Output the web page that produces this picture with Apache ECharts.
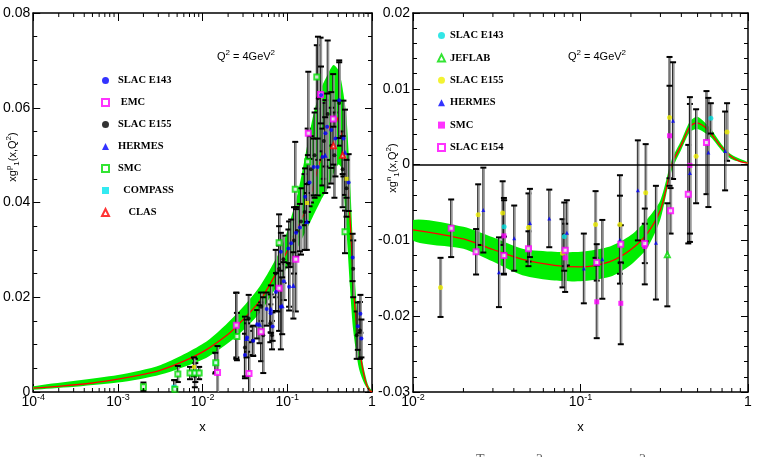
<!DOCTYPE html>
<html><head><meta charset="utf-8">
<script src="https://cdn.jsdelivr.net/npm/echarts@6/dist/echarts.min.js"></script>
<style>html,body{margin:0;padding:0;background:#fff}#c{width:757px;height:457px}</style>
</head><body><div id="c"></div>
<script>
// ---------- proton panel (left) ----------
const pCurveX = [1e-4,2e-4,5e-4,1e-3,2e-3,3.2e-3,6e-3,0.011,0.02,0.025,0.047,0.08,0.137,0.183,0.22,0.26,0.30,0.34,0.377,0.41,0.45,0.50,0.545,0.58,0.61,0.68,0.78,0.88,0.96,1];
const pCurveY = [0.0008,0.0012,0.0019,0.0027,0.0037,0.0046,0.0065,0.0089,0.0122,0.0138,0.0192,0.0263,0.0352,0.0405,0.0460,0.0504,0.0546,0.0572,0.0581,0.0565,0.0532,0.0462,0.0378,0.0290,0.0209,0.0117,0.0046,0.0011,0.0002,0];
const pBandX  = [1e-4,1e-3,3.2e-3,0.011,0.025,0.047,0.081,0.10,0.137,0.20,0.25,0.30,0.35,0.40,0.43,0.46,0.50,0.55,0.60,0.70,0.80,0.90,1];
const pBandLo = [0.0005,0.0020,0.0037,0.0072,0.0117,0.0166,0.0233,0.0265,0.0310,0.0370,0.0405,0.0430,0.0460,0.0480,0.0475,0.0430,0.0340,0.0220,0.0130,0.0050,0.0020,0.0005,0];
const pBandHi = [0.0012,0.0036,0.0057,0.0106,0.0164,0.0222,0.0296,0.0340,0.0430,0.0580,0.0640,0.0670,0.0690,0.0680,0.0660,0.0630,0.0580,0.0450,0.0300,0.0120,0.0050,0.0015,0.0002];
// points: [x, value, error]
const pE143 = [[0.0316,0.0078,0.0045],[0.0335,0.0115,0.003],[0.0396,0.0108,0.0032],[0.0441,0.0143,0.003],[0.0571,0.0175,0.0035],[0.0636,0.0166,0.004],[0.0671,0.0138,0.003],[0.0735,0.0211,0.004],[0.084,0.018,0.009],[0.084,0.0296,0.004],[0.091,0.0234,0.004],[0.103,0.0303,0.004],[0.105,0.0222,0.005],[0.111,0.0314,0.005],[0.127,0.0336,0.005],[0.141,0.0347,0.005],[0.162,0.0412,0.006],[0.183,0.0442,0.005],[0.205,0.0475,0.006],[0.228,0.0475,0.006],[0.25,0.0627,0.006],[0.26,0.0496,0.006],[0.282,0.0546,0.007],[0.295,0.056,0.007],[0.33,0.0553,0.008],[0.37,0.0535,0.008],[0.41,0.0616,0.008],[0.46,0.0535,0.008],[0.53,0.0442,0.006],[0.59,0.0284,0.005],[0.68,0.0139,0.005],[0.73,0.0165,0.004],[0.75,0.0113,0.004]];
const pEMC  = [[0.015,0.0041,0.0056],[0.025,0.0141,0.0068],[0.0353,0.0039,0.009],[0.049,0.0127,0.0062],[0.08,0.0219,0.009],[0.126,0.028,0.011],[0.177,0.0546,0.013],[0.247,0.0628,0.012],[0.348,0.0576,0.0095]];
const pE155 = [[0.025,0.014,0.007],[0.0316,0.0094,0.0065],[0.035,0.0155,0.005],[0.039,0.0108,0.003],[0.049,0.018,0.003],[0.052,0.012,0.008],[0.063,0.0145,0.004],[0.066,0.012,0.003],[0.073,0.025,0.005],[0.08,0.026,0.009],[0.09,0.028,0.005],[0.105,0.027,0.009],[0.12,0.032,0.007],[0.13,0.034,0.005],[0.145,0.036,0.007],[0.16,0.038,0.008],[0.175,0.044,0.006],[0.19,0.047,0.007],[0.21,0.05,0.009],[0.23,0.062,0.013],[0.27,0.053,0.008],[0.30,0.0587,0.0155],[0.33,0.052,0.008],[0.36,0.05,0.009],[0.41,0.061,0.009],[0.45,0.047,0.008],[0.50,0.043,0.006],[0.60,0.026,0.006],[0.66,0.012,0.005],[0.72,0.013,0.006]];
const pHERMES = [[0.033,0.0113,0.004],[0.047,0.0143,0.004],[0.064,0.0175,0.005],[0.087,0.0182,0.006],[0.118,0.0225,0.007],[0.17,0.036,0.006],[0.28,0.05,0.008],[0.48,0.0506,0.009]];
const pSMC  = [[0.002,0.0011,0.0009],[0.0047,0.0006,0.0019],[0.0051,0.0038,0.0017],[0.0071,0.0040,0.0013],[0.0081,0.0040,0.0030],[0.0091,0.0040,0.0013],[0.0143,0.0062,0.0020],[0.0254,0.0117,0.0050],[0.08,0.0315,0.006],[0.124,0.0428,0.010],[0.174,0.0486,0.007],[0.223,0.0665,0.0067],[0.48,0.0338,0.0045]];
const pCOMPASS = [[0.0046,0.0010,0.0015],[0.0082,0.0041,0.0020],[0.0141,0.0061,0.0022]];
const pCLAS = [[0.35,0.052,0.004],[0.45,0.050,0.004]];
const pE155x = [[0.0079,0.0053,0.002],[0.171,0.0399,0.004],[0.50,0.045,0.004]];

// ---------- neutron panel (right) ----------
const nCurveX = [0.01,0.02,0.03,0.045,0.07,0.10,0.15,0.20,0.25,0.30,0.33,0.35,0.40,0.45,0.494,0.55,0.60,0.70,0.80,0.90,1];
const nCurveY = [-0.0086,-0.0098,-0.0112,-0.0125,-0.0133,-0.0135,-0.0128,-0.0112,-0.0091,-0.0060,-0.0025,0,0.0026,0.0050,0.0055,0.0050,0.0041,0.0022,0.0010,0.0004,0.0002];
const nBandX  = [0.01,0.02,0.03,0.045,0.07,0.10,0.15,0.20,0.25,0.30,0.35,0.40,0.45,0.50,0.60,0.70,0.80,1];
const nBandLo = [-0.0100,-0.0111,-0.0128,-0.0146,-0.0153,-0.0154,-0.0148,-0.0132,-0.0110,-0.0072,-0.0008,0.0020,0.0043,0.0047,0.0036,0.0018,0.0007,0.0001];
const nBandHi = [-0.0073,-0.0082,-0.0096,-0.0111,-0.0115,-0.0115,-0.0108,-0.0093,-0.0072,-0.0047,0.0006,0.0032,0.0057,0.0063,0.0047,0.0026,0.0013,0.0003];
const nE143 = [[0.035,-0.0082,0.0035],[0.08,-0.0095,0.0045],[0.60,0.0061,0.0020]];
const nJLAB = [[0.33,-0.0119,0.0068]];
const nE155 = [[0.0146,-0.0162,0.0039],[0.0245,-0.0066,0.004],[0.0343,-0.0064,0.0042],[0.0489,-0.0083,0.0045],[0.0781,-0.0117,0.0045],[0.123,-0.0079,0.0044],[0.172,-0.0079,0.0065],[0.245,-0.0037,0.0064],[0.34,0.0062,0.008],[0.49,0.0011,0.0062],[0.75,0.0043,0.0038]];
const nHERMES = [[0.0263,-0.006,0.0056],[0.0326,-0.0142,0.0046],[0.0402,-0.0097,0.0043],[0.0499,-0.0077,0.0045],[0.0651,-0.0071,0.0038],[0.0829,-0.009,0.0043],[0.1047,-0.0137,0.0046],[0.135,-0.0125,0.0052],[0.172,-0.0099,0.0058],[0.22,-0.0034,0.0066],[0.282,-0.0103,0.0075],[0.357,0.0058,0.0077],[0.45,-0.0011,0.0091],[0.58,0.0016,0.0072],[0.73,0.0018,0.0052]];
const nSMC  = [[0.0349,-0.0094,0.005],[0.081,-0.0123,0.0045],[0.125,-0.0181,0.0048],[0.174,-0.0183,0.0054],[0.242,-0.0108,0.005],[0.34,0.0038,0.0066],[0.45,-0.0001,0.009]];
const nE154 = [[0.0169,-0.0084,0.0038],[0.0238,-0.0115,0.003],[0.0349,-0.012,0.0025],[0.0489,-0.0111,0.0023],[0.081,-0.0113,0.0021],[0.125,-0.0129,0.0024],[0.174,-0.0105,0.0025],[0.242,-0.0104,0.0026],[0.345,-0.0061,0.003],[0.44,-0.0039,0.0065],[0.565,0.0029,0.0068]];

const leftNames  = ['SLAC E143','EMC','SLAC E155','HERMES','SMC','COMPASS','CLAS'];
const rightNames = ['SLAC E143 ','JEFLAB','SLAC E155 ','HERMES ','SMC ','SLAC E154'];

// ---------- helpers ----------
const FONT = '"Liberation Sans Narrow","Arial Narrow","Liberation Sans",sans-serif';
const LFONT = '"Liberation Serif",serif';
function bandSeries(xi, yi, X, LO, HI){
  return {type:'custom', xAxisIndex:xi, yAxisIndex:yi, z:1, silent:true, clip:true,
    data: X.map((x,i)=>[x,LO[i],HI[i]]),
    renderItem:(p,api)=>{
      if(p.dataIndex!==0) return null;
      const pts=[];
      for(let i=0;i<X.length;i++) pts.push(api.coord([X[i],HI[i]]));
      for(let i=X.length-1;i>=0;i--) pts.push(api.coord([X[i],LO[i]]));
      return {type:'polygon', shape:{points:pts, smooth:0.25}, style:{fill:'#00ee00'}};
    }};
}
function curveSeries(xi, yi, X, Y, extra){
  return Object.assign({type:'line', xAxisIndex:xi, yAxisIndex:yi, z:2, silent:true, smooth:0.3, showSymbol:false,
    data: X.map((x,i)=>[x,Y[i]]), lineStyle:{color:'#ff0000', width:1.3}}, extra||{});
}
function errSeries(xi, yi, D){
  return {type:'custom', xAxisIndex:xi, yAxisIndex:yi, z:3, silent:true, clip:true,
    data: D, encode:{x:0,y:1},
    renderItem:(p,api)=>{
      const x=api.value(0), y=api.value(1), e=api.value(2);
      const t=api.coord([x,y+e]), b=api.coord([x,y-e]); const w=3;
      return {type:'group', children:[
        {type:'line', shape:{x1:t[0]+0.8,y1:t[1],x2:b[0]+0.8,y2:b[1]}, style:{stroke:'#999',lineWidth:1.6}},
        {type:'line', shape:{x1:t[0]-0.5,y1:t[1],x2:b[0]-0.5,y2:b[1]}, style:{stroke:'#222',lineWidth:1}},
        {type:'line', shape:{x1:t[0]-w,y1:t[1],x2:t[0]+w,y2:t[1]}, style:{stroke:'#000',lineWidth:2}},
        {type:'line', shape:{x1:b[0]-w,y1:b[1],x2:b[0]+w,y2:b[1]}, style:{stroke:'#000',lineWidth:2}}
      ]};
    }};
}
function ptSeries(name, xi, yi, D, symbol, color, size){
  const empty = symbol.indexOf('empty')===0;
  return {type:'scatter', name, xAxisIndex:xi, yAxisIndex:yi, z:4, silent:true,
    symbol, symbolSize:size, data: D.map(d=>[d[0],d[1]]),
    itemStyle: empty ? {color:color, borderColor:color, borderWidth:1.2} : {color:color}};
}
function minorLog(xi, yi, lo, ymin, ymax){
  const ticks=[];
  for(let e=lo;e<0;e++) for(let m=2;m<=9;m++) ticks.push(m*Math.pow(10,e));
  return {type:'custom', xAxisIndex:xi, yAxisIndex:yi, z:6, silent:true, clip:false,
    data: ticks.map(v=>[v,ymin]),
    renderItem:(p,api)=>{
      const v=api.value(0); const b=api.coord([v,ymin]); const t=api.coord([v,ymax]);
      return {type:'group', children:[
        {type:'line', shape:{x1:b[0],y1:b[1],x2:b[0],y2:b[1]-4}, style:{stroke:'#000',lineWidth:1}},
        {type:'line', shape:{x1:t[0],y1:t[1],x2:t[0],y2:t[1]+4}, style:{stroke:'#000',lineWidth:1}}]};
    }};
}
const lineCol = {color:'#000', width:1.5};
function logX(gi, min, pos, lab){
  return {type:'log', logBase:10, gridIndex:gi, min:min, max:1, position:pos,
    axisLine:{show:true, onZero:false, lineStyle:lineCol},
    axisTick:{show:true, inside:true, length:8, lineStyle:{color:'#000',width:1}},
    splitLine:{show:false}, minorTick:{show:false},
    axisLabel:{show:lab, margin:1, fontFamily:FONT, color:'#000',
      formatter:v=>{ const e=Math.round(Math.log10(v)); return e===0?'{b|1}':'{b|10}{s|'+e+'}'; },
      rich:{b:{fontFamily:FONT,fontSize:14,lineHeight:18,color:'#000'}, s:{fontFamily:FONT,fontSize:9,lineHeight:8,verticalAlign:'top',color:'#000'}}},
    name: lab?'x':'', nameLocation:'middle', nameGap:29,
    nameTextStyle:{fontFamily:FONT, fontSize:13, color:'#000'}};
}
function valY(gi, min, max, interval, pos, lab, msplit){
  return {type:'value', gridIndex:gi, min, max, interval, position:pos,
    axisLine:{show:true, onZero:false, lineStyle:lineCol},
    axisTick:{show:true, inside:true, length:7, lineStyle:{color:'#000',width:1}},
    minorTick:{show:true, splitNumber:msplit, length:4, lineStyle:{color:'#000',width:1}},
    splitLine:{show:false},
    axisLabel:{show:lab, margin:3, fontFamily:FONT, fontSize:14, color:'#000',
      formatter:v=>Math.abs(v)<1e-9?'0':v.toFixed(2)}};
}
const sup = {fontFamily:FONT, fontSize:8, lineHeight:8, verticalAlign:'top', color:'#000'};
const sub = {fontFamily:FONT, fontSize:8, lineHeight:8, verticalAlign:'bottom', color:'#000'};
const base = {fontFamily:FONT, fontSize:11, lineHeight:16, color:'#000'};
function richText(x, y, txt, rot){
  return {type:'text', x, y, rotation:rot||0, silent:true,
    style:{text:txt, align:'center', verticalAlign:'middle', rich:{b:base, p:sup, q:sub}}};
}
const padL = {'EMC':' ','COMPASS':'  ','CLAS':'    '};

const chart = echarts.init(document.getElementById('c'), null, {renderer:'canvas'});
chart.setOption({
  animation:false, backgroundColor:'#fff',
  grid:[{left:33, top:13, width:339, height:379},{left:413, top:13, width:335, height:379}],
  xAxis:[logX(0,1e-4,'bottom',true), logX(0,1e-4,'top',false), logX(1,1e-2,'bottom',true), logX(1,1e-2,'top',false)],
  yAxis:[valY(0,0,0.08,0.02,'left',true,4), valY(0,0,0.08,0.02,'right',false,4),
         valY(1,-0.03,0.02,0.01,'left',true,5), valY(1,-0.03,0.02,0.01,'right',false,5)],
  legend:[
    {data:leftNames, orient:'vertical', left:96, top:69, itemWidth:7, itemHeight:7, itemGap:9, selectedMode:false,
     textStyle:{fontFamily:LFONT, fontWeight:'bold', fontSize:10.5, lineHeight:13, color:'#000', padding:[0,0,0,4]}, formatter:n=>(padL[n]||'')+n},
    {data:rightNames, orient:'vertical', left:432, top:24, itemWidth:7, itemHeight:7, itemGap:9.4, selectedMode:false,
     textStyle:{fontFamily:LFONT, fontWeight:'bold', fontSize:10.5, lineHeight:13, color:'#000'}, formatter:n=>n}
  ],
  graphic:[
    richText(246, 57, '{b|Q}{p|2}{b| = 4GeV}{p|2}'),
    richText(597, 57, '{b|Q}{p|2}{b| = 4GeV}{p|2}'),
    richText(13, 157, '{b|xg}{p|p}{q|1}{b|(x,Q}{p|2}{b|)}', Math.PI/2),
    richText(393, 168, '{b|xg}{p|n}{q|1}{b|(x,Q}{p|2}{b|)}', Math.PI/2),
    {type:'text', x:476, y:453, silent:true, style:{text:'T', fontFamily:'Liberation Serif', fontSize:14, fill:'#666'}},
    {type:'text', x:536, y:453, silent:true, style:{text:'2', fontFamily:'Liberation Serif', fontSize:14, fill:'#666'}},
    {type:'text', x:639, y:453, silent:true, style:{text:'2', fontFamily:'Liberation Serif', fontSize:14, fill:'#666'}}
  ],
  series:[
    bandSeries(0,0,pBandX,pBandLo,pBandHi),
    curveSeries(0,0,pCurveX,pCurveY),
    errSeries(0,0,pSMC), errSeries(0,0,pEMC), errSeries(0,0,pE155), errSeries(0,0,pE143),
    errSeries(0,0,pHERMES), errSeries(0,0,pCOMPASS), errSeries(0,0,pCLAS), errSeries(0,0,pE155x),
    ptSeries('SLAC E155',0,0,pE155,'circle','#000000',4),
    ptSeries('COMPASS',0,0,pCOMPASS,'rect','#00e5ee',5),
    ptSeries('SMC',0,0,pSMC,'emptyRect','#00dd00',5),
    ptSeries('EMC',0,0,pEMC,'emptyRect','#ff00ff',5),
    ptSeries('SLAC E143',0,0,pE143,'circle','#0000ff',4),
    ptSeries('HERMES',0,0,pHERMES,'triangle','#0000ff',5),
    ptSeries('CLAS',0,0,pCLAS,'emptyTriangle','#ff0000',5),
    ptSeries('E155x',0,0,pE155x,'rect','#f0f000',4),
    minorLog(0,0,-4,0,0.08),

    bandSeries(2,2,nBandX,nBandLo,nBandHi),
    curveSeries(2,2,nCurveX,nCurveY,{markLine:{silent:true, symbol:'none', label:{show:false},
      lineStyle:{color:'#000', width:1.5, type:'solid'}, data:[{yAxis:0}]}}),
    errSeries(2,2,nE155), errSeries(2,2,nE154), errSeries(2,2,nHERMES), errSeries(2,2,nSMC),
    errSeries(2,2,nJLAB), errSeries(2,2,nE143),
    ptSeries('SLAC E143 ',2,2,nE143,'circle','#00e0e0',5),
    ptSeries('JEFLAB',2,2,nJLAB,'emptyTriangle','#00dd00',5),
    ptSeries('SLAC E155 ',2,2,nE155,'circle','#f0f000',5),
    ptSeries('HERMES ',2,2,nHERMES,'triangle','#0000ff',4),
    ptSeries('SMC ',2,2,nSMC,'rect','#ff00ff',5),
    ptSeries('SLAC E154',2,2,nE154,'emptyRect','#ff00ff',5),
    minorLog(2,2,-2,-0.03,0.02)
  ]
});
</script></body></html>
